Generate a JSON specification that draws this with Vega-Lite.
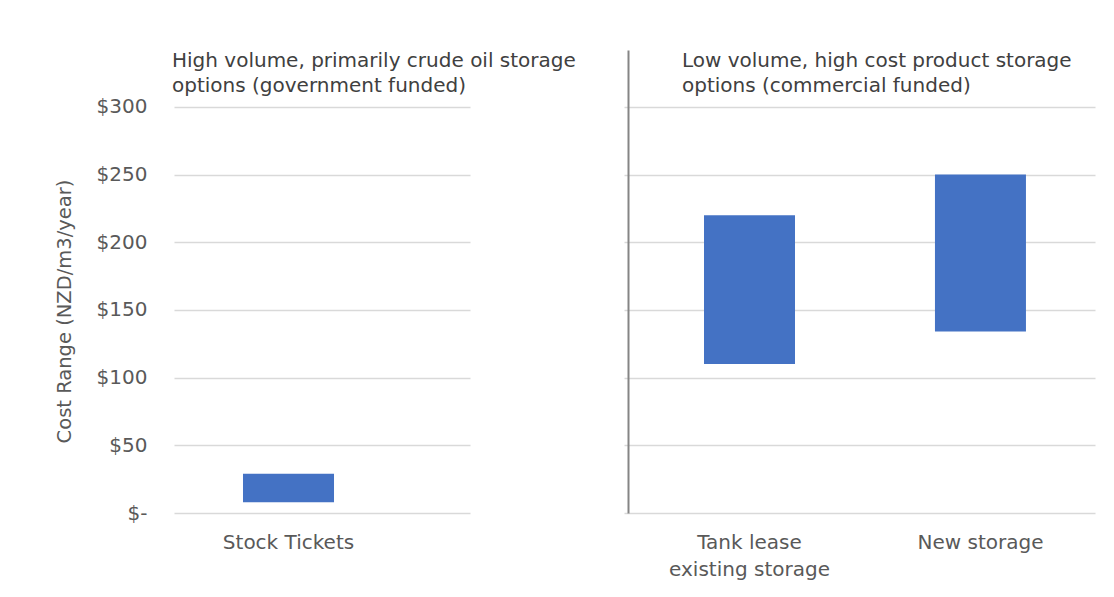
{
  "$schema": "https://vega.github.io/schema/vega-lite/v6.json",
  "background": "white",
  "padding": {"left": 54, "top": 50, "right": 5, "bottom": 5},
  "bounds": "flush",
  "spacing": 158,
  "data": {
    "values": [
      {"group": "gov", "option": "Stock Tickets", "low": 8, "high": 29},
      {"group": "com", "option": "Tank lease existing storage", "low": 110, "high": 220},
      {"group": "com", "option": "New storage", "low": 134, "high": 250}
    ]
  },
  "config": {
    "view": {"stroke": null},
    "font": "DejaVu Sans",
    "axis": {
      "gridColor": "#d9d9d9",
      "gridWidth": 1.5,
      "labelFont": "DejaVu Sans",
      "labelFontSize": 20,
      "labelColor": "#595959",
      "titleFont": "DejaVu Sans",
      "titleFontSize": 19.5,
      "titleFontWeight": "normal",
      "titleColor": "#595959"
    },
    "title": {
      "font": "DejaVu Sans",
      "fontSize": 20,
      "fontWeight": "normal",
      "color": "#404040",
      "anchor": "start",
      "frame": "group",
      "baseline": "top",
      "lineHeight": 25,
      "offset": -46
    }
  },
  "hconcat": [
    {
      "width": 296,
      "height": 463,
      "transform": [{"filter": "datum.group == 'gov'"}],
      "title": {
        "text": ["High volume, primarily crude oil storage", "options (government funded)"],
        "dx": -2
      },
      "mark": {"type": "bar", "color": "#4472C4"},
      "encoding": {
        "x": {
          "field": "option",
          "type": "nominal",
          "sort": null,
          "scale": {"paddingInner": 0.606, "paddingOuter": 0.4437, "align": 0.3366},
          "axis": {
            "title": null,
            "domain": false,
            "ticks": false,
            "labelAngle": 0,
            "labelPadding": 19
          }
        },
        "y": {
          "field": "low",
          "type": "quantitative",
          "scale": {"domain": [0, 342], "nice": false},
          "axis": {
            "title": "Cost Range (NZD/m3/year)",
            "titleY": 261,
            "titlePadding": 22,
            "values": [0, 50, 100, 150, 200, 250, 300],
            "labelExpr": "datum.value == 0 ? '$-' : '$' + datum.value",
            "domain": false,
            "ticks": false,
            "labelPadding": 27,
            "grid": true
          }
        },
        "y2": {"field": "high"}
      }
    },
    {
      "width": 467,
      "height": 463,
      "transform": [{"filter": "datum.group == 'com'"}],
      "title": {
        "text": ["Low volume, high cost product storage", "options (commercial funded)"],
        "dx": 54
      },
      "mark": {"type": "bar", "color": "#4472C4"},
      "encoding": {
        "x": {
          "field": "option",
          "type": "nominal",
          "sort": null,
          "scale": {"paddingInner": 0.606, "paddingOuter": 0.314, "align": 0.524},
          "axis": {
            "title": null,
            "domain": false,
            "ticks": false,
            "labelAngle": 0,
            "labelPadding": 19,
            "labelLineHeight": 27,
            "labelExpr": "datum.value == 'Tank lease existing storage' ? ['Tank lease', 'existing storage'] : datum.value"
          }
        },
        "y": {
          "field": "low",
          "type": "quantitative",
          "scale": {"domain": [0, 342], "nice": false},
          "axis": {
            "title": null,
            "values": [0, 50, 100, 150, 200, 250, 300],
            "labels": false,
            "domain": true,
            "domainColor": "#858585",
            "domainWidth": 2,
            "ticks": true,
            "tickColor": "#d9d9d9",
            "tickWidth": 1.5,
            "tickSize": 4,
            "grid": true
          }
        },
        "y2": {"field": "high"}
      }
    }
  ]
}
